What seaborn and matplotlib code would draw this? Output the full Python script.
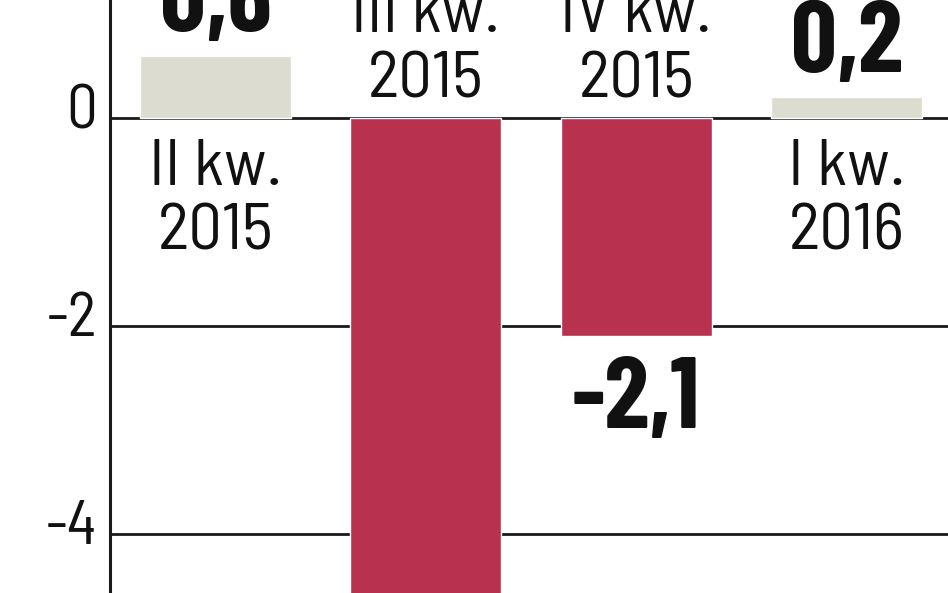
import matplotlib
matplotlib.use("Agg")
import matplotlib.pyplot as plt
import matplotlib.transforms as mtransforms
import seaborn as sns
import pandas as pd

categories = ["II kw.\n2015", "III kw.\n2015", "IV kw.\n2015", "I kw.\n2016"]
values = [0.6, -5.0, -2.1, 0.2]
value_labels = ["0,6", "-5,0", "-2,1", "0,2"]
yticks = [0, -2, -4]
ytick_labels = ["0", "-2", "-4"]

sns.set_style("white")
plt.rcParams["font.family"] = ["Barlow Semi Condensed", "DejaVu Sans"]

df = pd.DataFrame({"cat": categories, "val": values})
colors = ["#DCDCD0" if v >= 0 else "#B83250" for v in values]

fig = plt.figure(figsize=(9.48, 5.93), dpi=100)
ax = fig.add_axes([110 / 948, 0, 838 / 948, 1])
sns.barplot(data=df, x="cat", y="val", hue="cat", palette=colors, legend=False,
            width=0.718, ax=ax, zorder=3, saturation=1)

ax.set_xlim(-0.502, 3.483)
ax.set_ylim(-4.567, 1.135)
ax.set_yticks(yticks)
ax.set_yticklabels(ytick_labels, fontsize=44, color="#111")
ax.tick_params(axis="y", length=0, pad=9)
shift = mtransforms.ScaledTranslation(0, 0.12, fig.dpi_scale_trans)
for lbl in ax.get_yticklabels():
    lbl.set_transform(lbl.get_transform() + shift)
ax.set_xticks([])
ax.set_xlabel("")
ax.set_ylabel("")
for y in yticks:
    ax.axhline(y, color="#1a1a1a", lw=2, zorder=1)
for s in ["top", "right", "bottom"]:
    ax.spines[s].set_visible(False)
ax.spines["left"].set_color("#1a1a1a")
ax.spines["left"].set_linewidth(2.2)

cat_kw = dict(textcoords="offset points", ha="center", va="baseline",
              fontsize=48, color="#111")
val_kw = dict(textcoords="offset points", ha="center", va="baseline",
              fontsize=73, fontweight="bold", color="#111",
              family=["Barlow Condensed", "DejaVu Sans"])
for i, (c, v, lab) in enumerate(zip(categories, values, value_labels)):
    l1, l2 = c.split("\n")
    if v >= 0:
        ax.annotate(l1, (i, 0), xytext=(0, -48.2), **cat_kw)
        ax.annotate(l2, (i, 0), xytext=(0, -95), **cat_kw)
        ax.annotate(lab, (i, v), xytext=(0, 18), **val_kw)
    else:
        ax.annotate(l1, (i, 0), xytext=(0, 61.9), **cat_kw)
        ax.annotate(l2, (i, 0), xytext=(0, 15.1), **cat_kw)
        ax.annotate(lab, (i, v), xytext=(0, -66), annotation_clip=True, **val_kw)

fig.savefig("out.png", dpi=100)
